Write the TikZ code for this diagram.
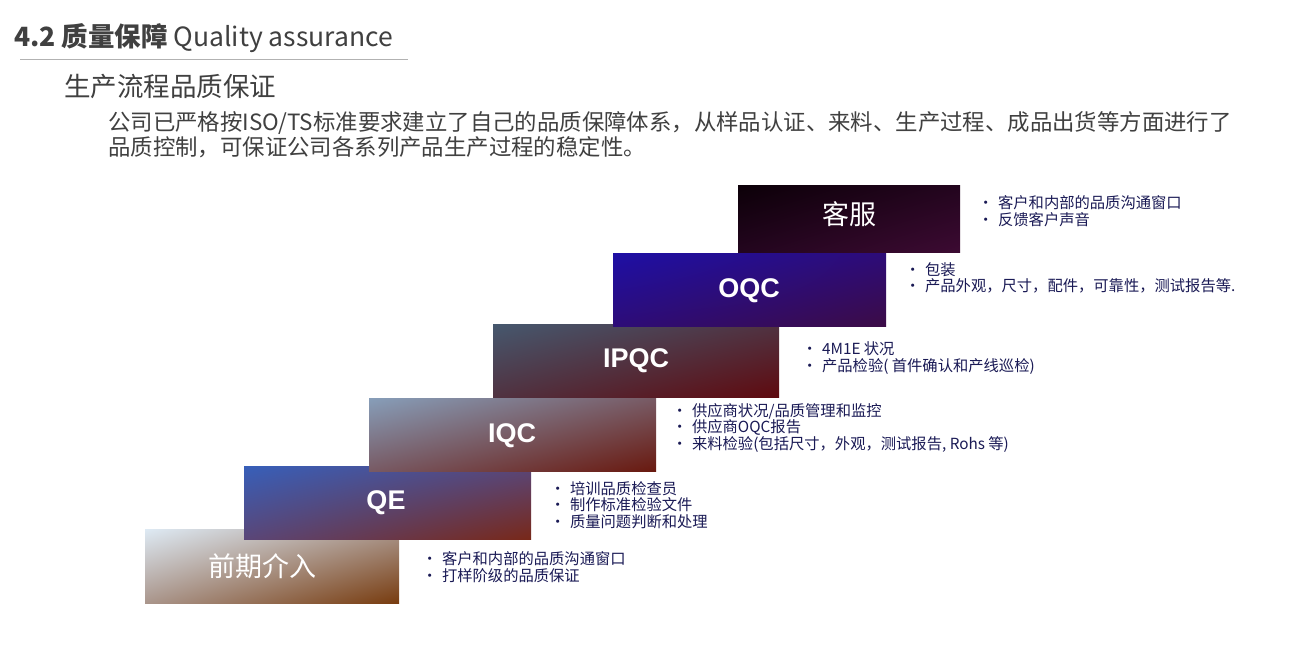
\documentclass[tikz,border=0pt]{standalone}
\usepackage{fontspec}
\usetikzlibrary{shadings}
\setmainfont{Noto Sans CJK SC}
\newfontfamily\latinb{Liberation Sans}
\definecolor{aUL}{RGB}{222,234,244}\definecolor{aLR}{RGB}{120,60,15}\definecolor{aM}{RGB}{170,150,140}
\definecolor{bUL}{RGB}{55,95,185}\definecolor{bLR}{RGB}{120,40,25}\definecolor{bM}{RGB}{90,70,120}
\definecolor{cUL}{RGB}{135,158,185}\definecolor{cLR}{RGB}{105,25,15}\definecolor{cM}{RGB}{120,90,100}
\definecolor{dUL}{RGB}{70,88,110}\definecolor{dLR}{RGB}{95,10,15}\definecolor{dM}{RGB}{80,50,65}
\definecolor{eUL}{RGB}{30,15,165}\definecolor{eLR}{RGB}{60,12,70}\definecolor{eM}{RGB}{45,12,120}
\definecolor{fUL}{RGB}{12,0,8}\definecolor{fLR}{RGB}{60,10,50}\definecolor{fM}{RGB}{35,5,30}
\definecolor{bltxt}{HTML}{1A1A55}
\definecolor{gtxt}{HTML}{404040}
\newcommand{\bu}{•\hspace{0.3em}}
\begin{document}
\begin{tikzpicture}[x=1pt,y=-1pt,
  lbl/.style={text=white,font=\latinb\bfseries\fontsize{27}{28}\selectfont},
  cjklbl/.style={text=white,font=\fontsize{27}{28}\selectfont},
  bl/.style={anchor=west,align=left,text=bltxt,inner sep=0pt,font=\fontsize{15.3}{16.5}\selectfont}]
\useasboundingbox (0,0) rectangle (1295,653);
\fill[white] (0,0) rectangle (1295,653);
\node[anchor=west,inner sep=0pt,text=gtxt,font=\fontsize{26.5}{28}\selectfont] (title) at (14,38) {\textbf{4.2 质量保障} Quality assurance};
\draw[gray!60] (20,59) -- (408,59);
\node[anchor=west,inner sep=0pt,text=gtxt,font=\fontsize{26.5}{28}\selectfont] (sub) at (64,87) {生产流程品质保证};
\node[anchor=north west,inner sep=0pt,align=left,text=gtxt,font=\fontsize{22.4}{25}\selectfont] (para) at (108,111) {公司已严格按ISO/TS标准要求建立了自己的品质保障体系，从样品认证、来料、生产过程、成品出货等方面进行了\\品质控制，可保证公司各系列产品生产过程的稳定性。};
% boxes
\shade[upper left=aUL, lower right=aLR, upper right=aM, lower left=aM] (145,529) rectangle (399,603);
\shade[upper left=bUL, lower right=bLR, upper right=bM, lower left=bM] (244,466) rectangle (531,539);
\shade[upper left=cUL, lower right=cLR, upper right=cM, lower left=cM] (369,398) rectangle (656,471);
\shade[upper left=dUL, lower right=dLR, upper right=dM, lower left=dM] (493,324) rectangle (779,397);
\shade[upper left=eUL, lower right=eLR, upper right=eM, lower left=eM] (613,253) rectangle (886,326);
\shade[upper left=fUL, lower right=fLR, upper right=fM, lower left=fM] (738,185) rectangle (960,252);
\node[cjklbl] (b1) at (262,566) {前期介入};
\node[lbl] (b2) at (386,503) {QE};
\node[lbl] (b3) at (512,436) {IQC};
\node[lbl] (b4) at (636,361) {IPQC};
\node[lbl] (b5) at (749,291) {OQC};
\node[cjklbl] (b6) at (849,214) {客服};
% bullets
\node[bl] (t6) at (978,211) {\bu 客户和内部的品质沟通窗口\\\bu 反馈客户声音};
\node[bl] (t5) at (905,278) {\bu 包装\\\bu 产品外观，尺寸，配件，可靠性，测试报告等.};
\node[bl] (t4) at (802,358) {\bu 4M1E 状况\\\bu 产品检验( 首件确认和产线巡检)};
\node[bl] (t3) at (672,428) {\bu 供应商状况/品质管理和监控\\\bu 供应商OQC报告\\\bu 来料检验(包括尺寸，外观，测试报告, Rohs 等)};
\node[bl] (t2) at (550,505) {\bu 培训品质检查员\\\bu 制作标准检验文件\\\bu 质量问题判断和处理};
\node[bl] (t1) at (422,567) {\bu 客户和内部的品质沟通窗口\\\bu 打样阶级的品质保证};
\end{tikzpicture}
\end{document}
